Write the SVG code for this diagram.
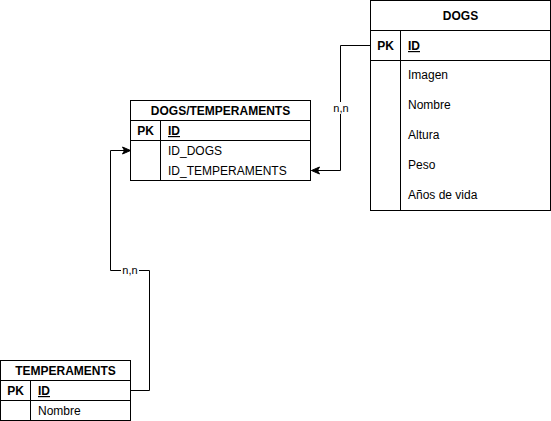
<svg xmlns="http://www.w3.org/2000/svg" width="551" height="421" viewBox="0 0 551 421">
<style>
.box{fill:#ffffff;stroke:#000000;stroke-width:1}
.ln{fill:none;stroke:#000000;stroke-width:1}
text{font-family:"Liberation Sans",Arial,Helvetica,sans-serif;font-size:12px;fill:#000000}
.h{font-weight:bold;text-anchor:middle}
.pk{font-weight:bold;text-anchor:middle}
.id{font-weight:bold;text-decoration:underline}
.lbl{font-size:11px;text-anchor:middle}
</style>
<defs>
<marker id="arr" markerWidth="10" markerHeight="10" refX="9" refY="5" orient="auto" markerUnits="userSpaceOnUse">
<path d="M1,1.5 L9,5 L1,8.5 L3,5 Z" fill="#000000" stroke="#000000" stroke-width="1"/>
</marker>
</defs>
<rect width="551" height="421" fill="#ffffff"/>
<g id="connectors">
<path class="ln" d="M370.5,45.5 H340.5 V170.5 H311.5" marker-end="url(#arr)"/>
<rect x="332" y="102" width="18" height="12" fill="#ffffff"/>
<text class="lbl" x="341" y="112">n,n</text>
<path class="ln" d="M130.5,390.5 H149.5 V270.5 H110.5 V150.5 H130.5" marker-end="url(#arr)"/>
<rect x="121" y="264" width="18" height="12" fill="#ffffff"/>
<text class="lbl" x="130" y="274">n,n</text>
</g>
<g id="dogs">
<rect class="box" x="370.5" y="0.5" width="180" height="210"/>
<path class="ln" d="M370.5,30.5 H550.5 M370.5,60.5 H550.5 M400.5,30.5 V210.5"/>
<text class="h" x="460.5" y="20">DOGS</text>
<text class="pk" x="385.5" y="50">PK</text>
<text class="id" x="408" y="50">ID</text>
<text x="408" y="79">Imagen</text>
<text x="408" y="109">Nombre</text>
<text x="408" y="139">Altura</text>
<text x="408" y="169">Peso</text>
<text x="408" y="199">Años de vida</text>
</g>
<g id="dogs_temperaments">
<rect class="box" x="130.5" y="100.5" width="180" height="80"/>
<path class="ln" d="M130.5,120.5 H310.5 M130.5,140.5 H310.5 M160.5,120.5 V180.5"/>
<text class="h" x="220.5" y="115">DOGS/TEMPERAMENTS</text>
<text class="pk" x="145.5" y="135">PK</text>
<text class="id" x="168" y="135">ID</text>
<text x="168" y="155">ID_DOGS</text>
<text x="168" y="175">ID_TEMPERAMENTS</text>
</g>
<g id="temperaments">
<rect class="box" x="0.5" y="360.5" width="130" height="60"/>
<path class="ln" d="M0.5,380.5 H130.5 M0.5,400.5 H130.5 M30.5,380.5 V420.5"/>
<text class="h" x="65.5" y="375">TEMPERAMENTS</text>
<text class="pk" x="15.5" y="395">PK</text>
<text class="id" x="38" y="395">ID</text>
<text x="38" y="415">Nombre</text>
</g>
</svg>
